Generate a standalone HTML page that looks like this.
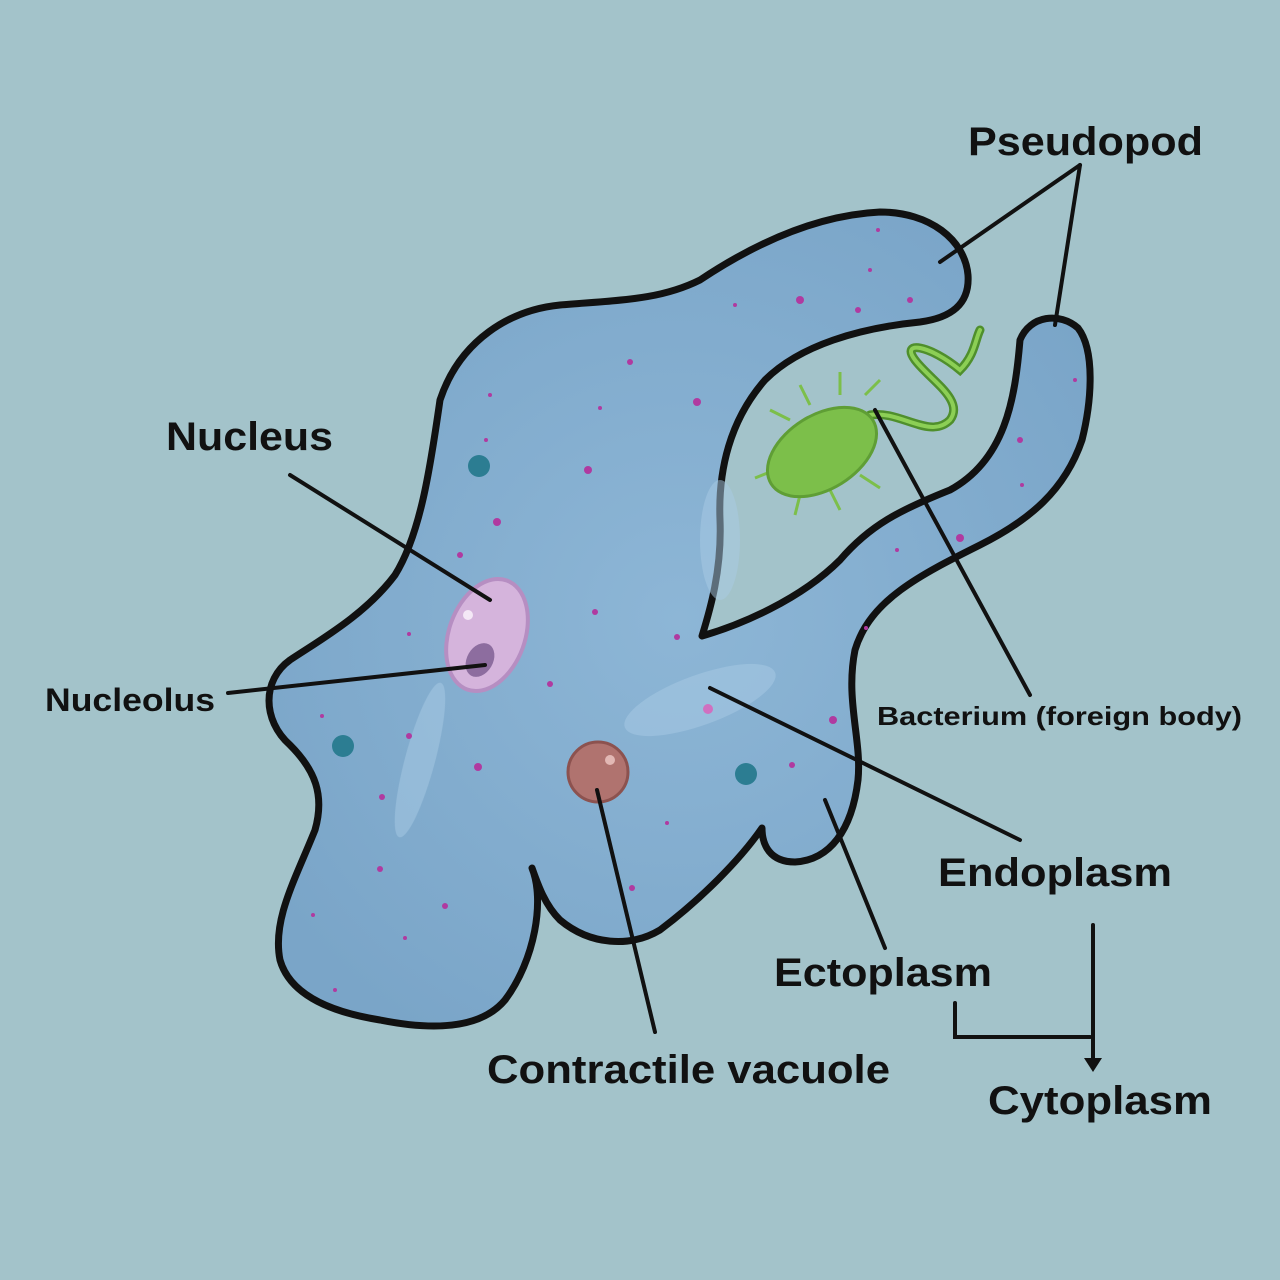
<!DOCTYPE html>
<html><head><meta charset="utf-8"><style>
html,body{margin:0;padding:0;background:#a3c3ca;}
svg{display:block}
text{font-family:"Liberation Sans",sans-serif;font-weight:bold;fill:#111;}
</style></head><body>
<svg width="1280" height="1280" viewBox="0 0 1280 1280">
<defs>
<radialGradient id="cellg" cx="50%" cy="50%" r="60%">
<stop offset="0" stop-color="#8db6d6"/><stop offset="1" stop-color="#7aa5c8"/>
</radialGradient>
</defs>
<rect width="1280" height="1280" fill="#a3c3ca"/>
<path fill="url(#cellg)" stroke="#111" stroke-width="7" stroke-linejoin="round"
d="M440,400 C460,340 510,310 560,305 C620,300 660,300 700,280 C760,240 820,215 880,212 C930,212 965,240 968,275 C970,305 950,318 920,322 C860,328 800,345 765,380 C730,420 718,470 720,520 C722,570 710,610 702,636 C740,625 800,600 840,560 C870,525 900,510 950,490 C1005,460 1015,400 1020,340 C1030,315 1060,312 1078,328 C1095,350 1092,400 1082,440 C1065,490 1030,520 980,545 C920,575 870,600 855,650 C845,700 862,740 858,780 C852,830 830,860 795,862 C770,862 762,845 762,828 C740,860 700,900 660,930 C630,948 590,945 560,920 C545,905 538,885 532,868 C545,900 535,960 505,1000 C480,1030 430,1030 380,1020 C330,1012 290,995 280,960 C272,920 295,880 315,830 C325,795 315,770 290,745 C262,720 262,680 290,660 C320,640 365,615 395,575 C420,535 430,470 440,400 Z"/>
<g fill="#a9cbe4" opacity="0.5">
<ellipse cx="700" cy="700" rx="80" ry="25" transform="rotate(-20 700 700)"/>
<ellipse cx="420" cy="760" rx="15" ry="80" transform="rotate(15 420 760)"/>
<ellipse cx="720" cy="540" rx="20" ry="60"/>
</g>
<g fill="#b03aa0">
<circle cx="800" cy="300" r="4"/><circle cx="858" cy="310" r="3"/><circle cx="910" cy="300" r="3"/><circle cx="878" cy="230" r="2"/><circle cx="870" cy="270" r="2"/>
<circle cx="630" cy="362" r="3"/><circle cx="697" cy="402" r="4"/><circle cx="735" cy="305" r="2"/><circle cx="600" cy="408" r="2"/><circle cx="490" cy="395" r="2"/>
<circle cx="588" cy="470" r="4"/><circle cx="497" cy="522" r="4"/><circle cx="460" cy="555" r="3"/><circle cx="486" cy="440" r="2"/>
<circle cx="595" cy="612" r="3"/><circle cx="677" cy="637" r="3"/><circle cx="550" cy="684" r="3"/><circle cx="409" cy="634" r="2"/>
<circle cx="322" cy="716" r="2"/><circle cx="409" cy="736" r="3"/><circle cx="478" cy="767" r="4"/><circle cx="382" cy="797" r="3"/>
<circle cx="380" cy="869" r="3"/><circle cx="445" cy="906" r="3"/><circle cx="405" cy="938" r="2"/><circle cx="313" cy="915" r="2"/><circle cx="335" cy="990" r="2"/>
<circle cx="632" cy="888" r="3"/><circle cx="667" cy="823" r="2"/><circle cx="833" cy="720" r="4"/><circle cx="792" cy="765" r="3"/><circle cx="708" cy="709" r="5" fill="#d070c0"/>
<circle cx="960" cy="538" r="4"/><circle cx="1020" cy="440" r="3"/><circle cx="1075" cy="380" r="2"/><circle cx="1022" cy="485" r="2"/><circle cx="897" cy="550" r="2"/><circle cx="866" cy="628" r="2"/>
</g>
<g fill="#2c7d92">
<circle cx="479" cy="466" r="11"/><circle cx="343" cy="746" r="11"/><circle cx="746" cy="774" r="11"/>
</g>
<g>
<ellipse cx="487" cy="635" rx="38" ry="58" transform="rotate(20 487 635)" fill="#d5b4dc" stroke="#b68ec2" stroke-width="4"/>
<ellipse cx="480" cy="660" rx="13" ry="18" transform="rotate(30 480 660)" fill="#8d6d9f"/>
<circle cx="468" cy="615" r="5" fill="#f4e8f6"/>
</g>
<g>
<circle cx="598" cy="772" r="30" fill="#b0736f" stroke="#8c524f" stroke-width="3"/>
<circle cx="610" cy="760" r="5" fill="#e2b8b4"/>
</g>
<g>
<path d="M870,415 C900,410 930,440 950,420 C965,400 930,380 915,360 C900,340 930,345 960,370 C975,355 975,340 980,330" fill="none" stroke="#4f8f2c" stroke-width="9" stroke-linecap="round"/>
<path d="M870,415 C900,410 930,440 950,420 C965,400 930,380 915,360 C900,340 930,345 960,370 C975,355 975,340 980,330" fill="none" stroke="#8ccf55" stroke-width="4" stroke-linecap="round"/>
<g stroke="#7cbf4a" stroke-width="3">
<line x1="790" y1="420" x2="770" y2="410"/><line x1="810" y1="405" x2="800" y2="385"/><line x1="840" y1="395" x2="840" y2="372"/><line x1="865" y1="395" x2="880" y2="380"/>
<line x1="775" y1="470" x2="755" y2="478"/><line x1="800" y1="495" x2="795" y2="515"/><line x1="830" y1="490" x2="840" y2="510"/><line x1="860" y1="475" x2="880" y2="488"/>
</g>
<ellipse cx="822" cy="452" rx="60" ry="37" transform="rotate(-32 822 452)" fill="#7cbf4a" stroke="#5f9e35" stroke-width="3"/>
</g>
<g stroke="#111" stroke-width="4" fill="none" stroke-linecap="round">
<line x1="1080" y1="165" x2="940" y2="262"/><line x1="1080" y1="165" x2="1055" y2="325"/>
<line x1="290" y1="475" x2="490" y2="600"/>
<line x1="228" y1="693" x2="485" y2="665"/>
<line x1="875" y1="410" x2="1030" y2="695"/>
<line x1="710" y1="688" x2="1020" y2="840"/>
<line x1="825" y1="800" x2="885" y2="948"/>
<line x1="597" y1="790" x2="655" y2="1032"/>
<path d="M955,1003 L955,1037 L1090,1037"/>
<line x1="1093" y1="925" x2="1093" y2="1060"/>
</g>
<path d="M1084,1058 L1102,1058 L1093,1072 Z" fill="#111"/>
<text x="968" y="155" font-size="40" textLength="235" lengthAdjust="spacingAndGlyphs">Pseudopod</text>
<text x="166" y="450" font-size="40" textLength="167" lengthAdjust="spacingAndGlyphs">Nucleus</text>
<text x="45" y="711" font-size="32" textLength="170" lengthAdjust="spacingAndGlyphs">Nucleolus</text>
<text x="877" y="725" font-size="26" textLength="365" lengthAdjust="spacingAndGlyphs">Bacterium (foreign body)</text>
<text x="938" y="886" font-size="40" textLength="234" lengthAdjust="spacingAndGlyphs">Endoplasm</text>
<text x="774" y="986" font-size="40" textLength="218" lengthAdjust="spacingAndGlyphs">Ectoplasm</text>
<text x="487" y="1083" font-size="40" textLength="403" lengthAdjust="spacingAndGlyphs">Contractile vacuole</text>
<text x="988" y="1114" font-size="40" textLength="224" lengthAdjust="spacingAndGlyphs">Cytoplasm</text>
</svg>
</body></html>
